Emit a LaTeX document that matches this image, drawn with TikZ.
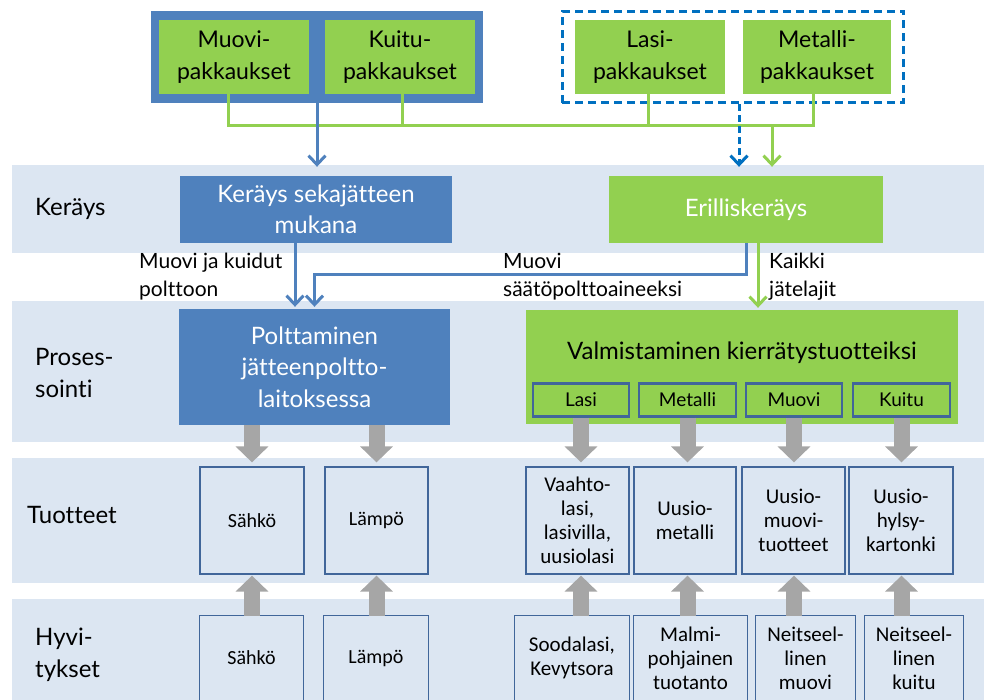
\documentclass[tikz,border=0pt]{standalone}
\usepackage{fontspec}
\setmainfont{Lato}[Ligatures=NoCommon]
\newfontfamily\calfont{Carlito}
\usetikzlibrary{arrows.meta,positioning,fit,backgrounds}
\definecolor{bandBg}{HTML}{DCE6F2}
\definecolor{wBlue}{HTML}{4F81BD}
\definecolor{wGreen}{HTML}{92D050}
\definecolor{wDash}{HTML}{0070C0}
\definecolor{wGray}{HTML}{A6A6A6}
\definecolor{wLine}{HTML}{41669A}

\begin{document}
\begin{tikzpicture}[x=1pt,y=-1pt,
  font=\fontsize{24}{31.5}\selectfont,
  band/.style={fill=bandBg},
  blk/.style={inner sep=1pt,align=center},
  pak/.style={blk,fill=wGreen,minimum width=150pt,minimum height=74pt,font=\fontsize{23}{32}\selectfont},
  bluebox/.style={blk,fill=wBlue,text=white},
  grnbox/.style={blk,fill=wGreen},
  sub/.style={blk,draw=wLine,line width=2.2pt,fill=wGreen,minimum height=33pt,font=\fontsize{19}{22}\selectfont},
  prod/.style={blk,draw=wLine,line width=1.2pt,minimum height=107pt,font=\calfont\fontsize{21}{24}\selectfont},
  comp/.style={blk,minimum height=84pt,font=\calfont\fontsize{21}{24}\selectfont},
  rowlbl/.style={anchor=west,align=left,inner sep=0pt,font=\fontsize{24}{32}\selectfont},
  flowlbl/.style={anchor=west,align=left,inner sep=0pt,font=\fontsize{21}{28}\selectfont},
  barr/.style={draw=wBlue,line width=3pt,-{Straight Barb[length=9pt,width=17pt]}},
  gline/.style={draw=wGreen,line width=3pt},
  garr/.style={gline,-{Straight Barb[length=9pt,width=17pt]}},
  darr/.style={draw=wDash,line width=3pt,dash pattern=on 7pt off 4pt,-{Straight Barb[length=9pt,width=17pt]}},
  fat/.style={draw=wGray,line width=16pt,-{Triangle[length=16pt,width=32pt]}}]
  \useasboundingbox (0,0) rectangle (984,700);
  % bands
  \fill[band] (12,165) rectangle (984,253);
  \fill[band] (12,301) rectangle (984,442);
  \fill[band] (12,458) rectangle (984,583);
  \fill[band] (12,599) rectangle (984,700);
  \node[rowlbl] (lkeray) at (35,209) {Keräys};
  \node[rowlbl] (lproses) at (35,373) {Proses-\\sointi};
  \node[rowlbl] (ltuote) at (27,515) {Tuotteet};
  \node[rowlbl] (lhyvit) at (35,655) {Hyvi-\\tykset};
  % packaging
  \node[pak] (muovip) at (234,57) {Muovi-\\pakkaukset};
  \node[pak] (kuitup) at (400,57) {Kuitu-\\pakkaukset};
  \node[pak] (lasip) at (650,57) {Lasi-\\pakkaukset};
  \node[pak,minimum width=148pt] (metallip) at (817,57) {Metalli-\\pakkaukset};
  \begin{scope}[on background layer]
    \node[fill=wBlue,fit=(muovip)(kuitup),inner xsep=7.5pt,inner ysep=8.5pt] (sekagrp) {};
  \end{scope}
  \node[draw=wDash,line width=2.7pt,dash pattern=on 8pt off 5pt,fit=(lasip)(metallip),inner xsep=12.5pt,inner ysep=8.5pt] (erilgrp) {};
  % collection
  \node[bluebox,minimum width=272pt,minimum height=67pt] (sekak) at (316,209.5) {Keräys sekajätteen\\mukana};
  \node[grnbox,text=white,minimum width=274pt,minimum height=67pt] (erillisk) at (746,209.5) {Erilliskeräys};
  % processing
  \node[bluebox,minimum width=271pt,minimum height=116pt] (poltto) at (314.5,367) {Polttaminen\\jätteenpoltto-\\laitoksessa};
  \node[grnbox,minimum width=432pt,minimum height=114pt] (valmist) at (742,367) {};
  \node[blk] (valmtit) at (742,353) {Valmistaminen kierrätystuotteiksi};
  \node[sub,minimum width=96pt] (lasi) at (581,400) {Lasi};
  \node[sub,minimum width=97pt] (metalli) at (687.5,400) {Metalli};
  \node[sub,minimum width=96pt] (muovi) at (794,400) {Muovi};
  \node[sub,minimum width=97pt] (kuitu) at (901.5,400) {Kuitu};
  % products
  \node[prod,minimum width=104pt,font=\calfont\fontsize{20}{24}\selectfont] (sahkoT) at (252,520.5) {Sähkö};
  \node[prod,minimum width=103pt,font=\calfont\fontsize{20}{24}\selectfont] (lampoT) at (376.5,520.5) {Lämpö};
  \node[prod,minimum width=103pt] (vaahto) at (577.5,520.5) {Vaahto-\\lasi,\\lasivilla,\\uusiolasi};
  \node[prod,minimum width=102pt] (uusmet) at (685,520.5) {Uusio-\\metalli};
  \node[prod,minimum width=103pt] (uusmuo) at (793.5,520.5) {Uusio-\\muovi-\\tuotteet};
  \node[prod,minimum width=104pt] (hylsy) at (901,520.5) {Uusio-\\hylsy-\\kartonki};
  % compensations
  \node[comp,minimum width=103pt,font=\calfont\fontsize{20}{24}\selectfont] (sahkoH) at (251.5,658) {Sähkö};
  \node[comp,minimum width=104pt,font=\calfont\fontsize{20}{24}\selectfont] (lampoH) at (376,658) {Lämpö};
  \node[comp,minimum width=114pt] (sooda) at (572,658) {Soodalasi,\\Kevytsora};
  \node[comp,minimum width=113pt] (malmi) at (690.5,658) {Malmi-\\pohjainen\\tuotanto};
  \node[comp,minimum width=99pt] (neitm) at (805.5,658) {Neitseel-\\linen\\muovi};
  \node[comp,minimum width=98pt] (neitk) at (914,658) {Neitseel-\\linen\\kuitu};
  \foreach \n in {sahkoH,lampoH,sooda,malmi,neitm,neitk}{
    \draw[wLine,line width=1.2pt] (\n.south west) |- (\n.north east) -- (\n.south east);}
  % top connectors
  \coordinate (bus) at (0,126);
  \draw[gline] ([xshift=-6pt]muovip.south) -- ([xshift=-6pt]muovip.south |- bus) -- ([xshift=-4pt]metallip.south |- bus) -- ([xshift=-4pt]metallip.south);
  \draw[gline] ([xshift=2pt]kuitup.south) -- ([xshift=2pt]kuitup.south |- bus);
  \draw[gline] ([xshift=-2pt]lasip.south) -- ([xshift=-2pt]lasip.south |- bus);
  \draw[barr,shorten >=9pt] (sekagrp.south) -- (sekagrp.south |- sekak.north);
  \draw[darr,shorten >=9pt] ([xshift=-7pt]erillisk.north |- erilgrp.south) -- ([xshift=-7pt]erillisk.north);
  \draw[garr,shorten >=9pt] ([xshift=26pt]erillisk.north |- bus) -- ([xshift=26pt]erillisk.north);
  % middle connectors
  \coordinate (bend) at (0,275);
  \draw[barr,shorten >=2pt] ([xshift=-21pt]sekak.south) -- ([xshift=-21pt]sekak.south |- poltto.north);
  \draw[barr,shorten >=2pt] (erillisk.south) -- (erillisk.south |- bend) -| (poltto.north);
  \draw[garr,shorten >=2pt] ([xshift=12pt]erillisk.south) -- ([xshift=12pt]erillisk.south |- valmist.north);
  \node[flowlbl] (lpoltto) at (139,277) {Muovi ja kuidut\\polttoon};
  \node[flowlbl] (lsaato) at (503,277) {Muovi\\säätöpolttoaineeksi};
  \node[flowlbl] (lkaikki) at (769,277) {Kaikki\\jätelajit};
  % block arrows
  \foreach \t in {sahkoT,lampoT}{
    \draw[fat,shorten >=4pt] (\t |- poltto.south) -- (\t.north);}
  \foreach \s/\t in {lasi/vaahto,metalli/uusmet,muovi/uusmuo,kuitu/hylsy}{
    \draw[fat,shorten >=4pt] (\s.south) -- (\s.south |- \t.north);}
  \foreach \s/\t in {sahkoH/sahkoT,lampoH/lampoT}{
    \draw[fat,shorten >=1pt] (\t |- \s.north) -- (\t.south);}
  \foreach \s/\t/\x in {sooda/vaahto/lasi,malmi/uusmet/metalli,neitm/uusmuo/muovi,neitk/hylsy/kuitu}{
    \draw[fat,shorten >=1pt] (\x |- \s.north) -- (\x |- \t.south);}
\end{tikzpicture}
\end{document}
